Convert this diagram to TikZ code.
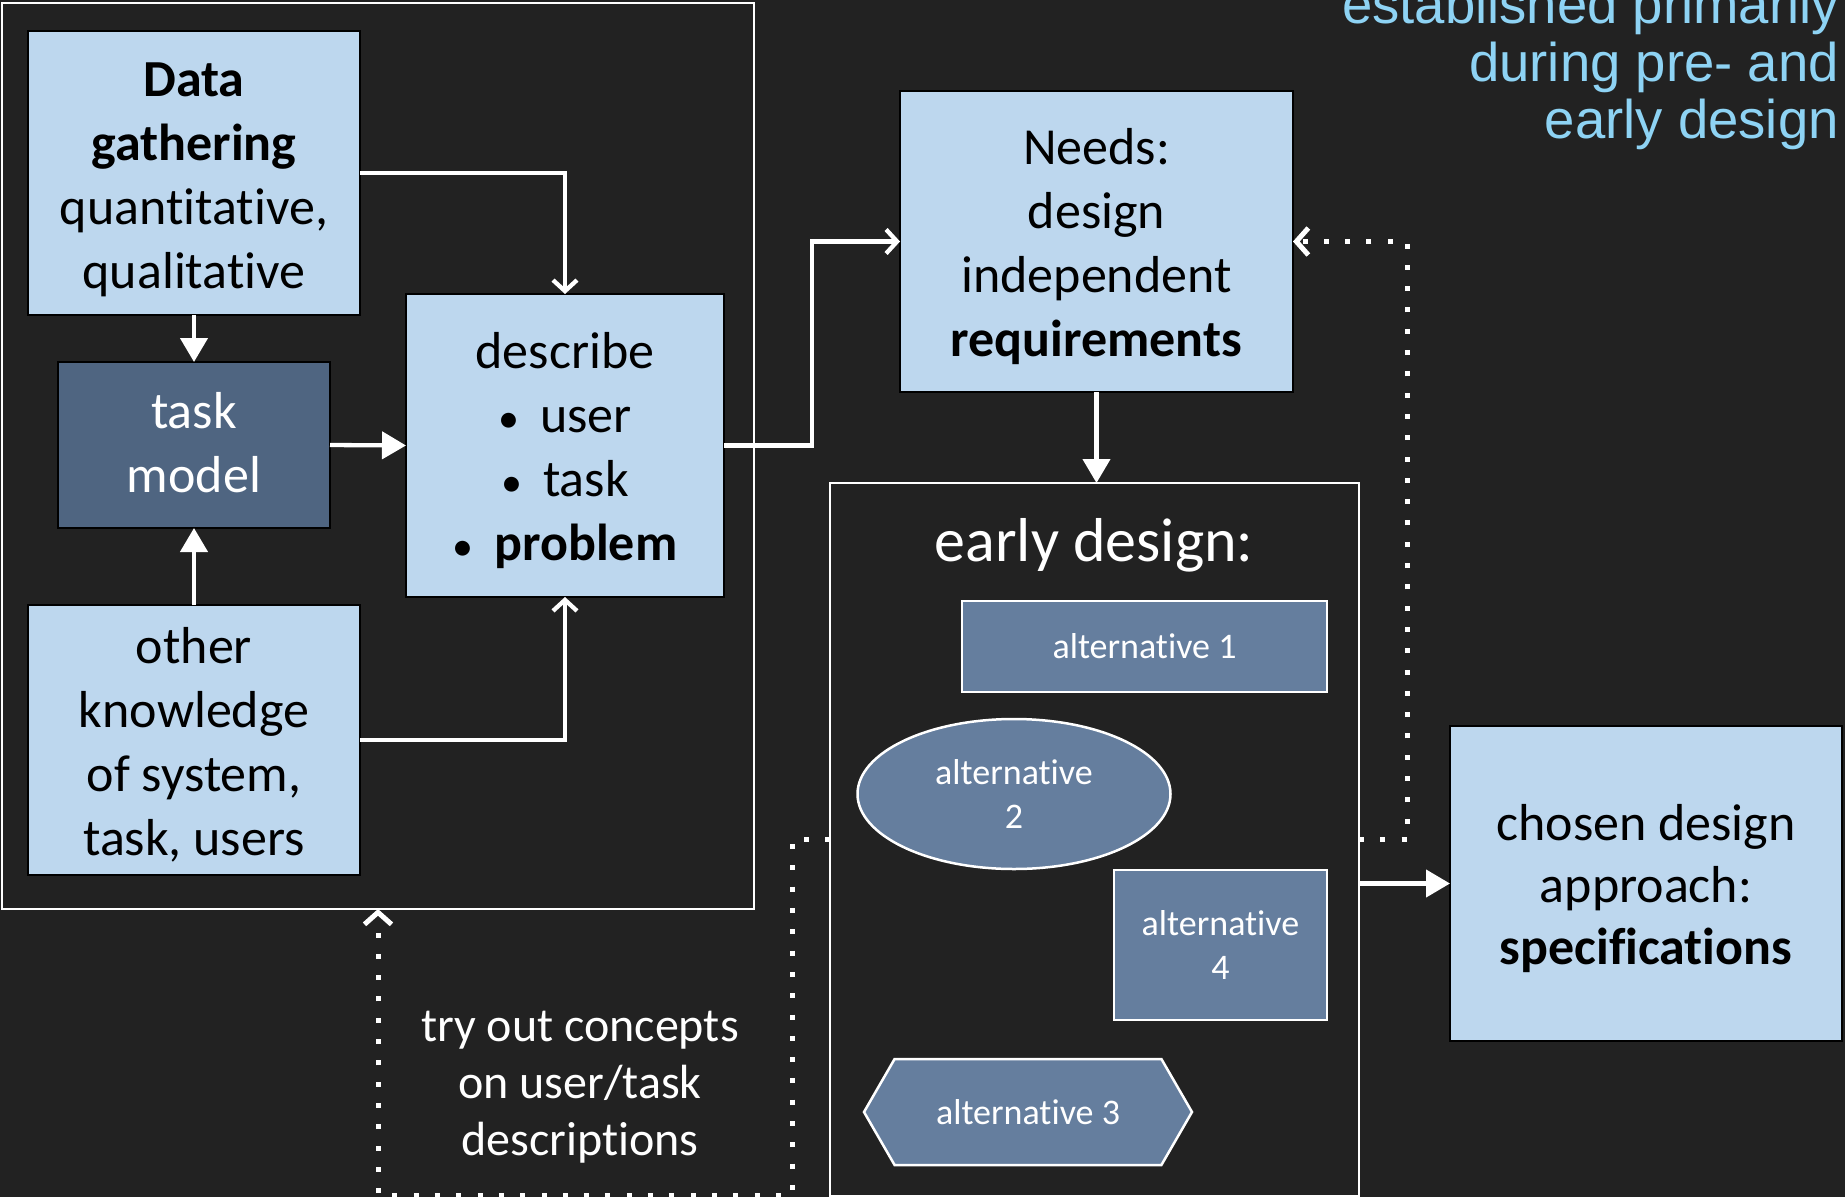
\documentclass[tikz,border=0pt]{standalone}
\usepackage{fontspec}
\setmainfont{Carlito}[Ligatures=NoCommon]
\newfontfamily\helv{Liberation Sans}
\usetikzlibrary{arrows.meta,shapes.geometric,shapes.symbols}
\definecolor{bgc}{HTML}{222222}
\definecolor{lightblue}{HTML}{BDD7EE}
\definecolor{taskdark}{HTML}{4F6581}
\definecolor{altfill}{HTML}{657E9E}
\definecolor{toptext}{HTML}{8ED3F4}
\newcommand\mytop{\rule{0pt}{48pt}}
\newcommand\mybot{\rule[-10pt]{0pt}{1pt}}
\newcommand\mybul{{\fontsize{42}{42}\selectfont •}\hspace{0.4em}}
\begin{document}
\begin{tikzpicture}[x=1pt,y=-1pt,
  lbox/.style={draw=black, line width=2.5pt, fill=lightblue, inner sep=0pt, outer sep=0pt,
    align=center, text=black, font=\fontsize{52}{64}\selectfont},
  dbox/.style={lbox, fill=taskdark, text=white},
  frame/.style={draw=white, line width=2.5pt, inner sep=0pt, outer sep=0pt},
  alt/.style={draw=white, line width=2.5pt, fill=altfill, text=white, align=center,
    inner sep=0pt, outer sep=0pt, font=\fontsize{36}{44.5}\selectfont},
  conn/.style={draw=white, line width=4.3pt},
  fhead/.style={-{Triangle[length=24pt,width=27pt]}},
  ohead/.style={-{Straight Barb[length=11pt,width=24pt]}},
  dotline/.style={draw=white, line width=5pt, dash pattern=on 5pt off 16.3pt,
    -{Straight Barb[length=12pt,width=27pt]}},
  plain/.style={text=white, inner sep=0pt, outer sep=0pt, align=center}
]
\fill[bgc] (0,0) rectangle (1845,1197);
\useasboundingbox (0,0) rectangle (1845,1197);

% frames
\node[frame, minimum width=752, minimum height=906] (leftframe) at (378,456) {};
\node[frame, minimum width=529, minimum height=713] (early) at (1094.5,839.5) {};

% left group
\node[lbox, minimum width=332, minimum height=284] (data) at (194,173)
  {\mytop\textbf{Data}\\\textbf{gathering}\\quantitative,\\qualitative\mybot};
\node[dbox, minimum width=272, minimum height=166] (task) at (194,445)
  {\rule{0pt}{40pt}task\\model\mybot};
\node[lbox, minimum width=318, minimum height=303] (describe) at (565,445.5)
  {\mytop describe\\\mybul user\\\mybul task\\\mybul\textbf{problem}\mybot};
\node[lbox, minimum width=332, minimum height=270] (other) at (194,740)
  {\mytop other\\knowledge\\of system,\\task, users\mybot};

% needs
\node[lbox, minimum width=393, minimum height=301] (needs) at (1096.5,241.5)
  {\mytop Needs:\\design\\independent\\\textbf{requirements}\mybot};

% early design content
\node[plain, font=\fontsize{62}{70}\selectfont, anchor=base] (edtitle) at (1094,561) {early design:};
\node[alt, minimum width=365, minimum height=91] (alt1) at (1144.5,646.5) {alternative 1};
\node[alt, ellipse, minimum width=313, minimum height=150] (alt2) at (1014,794) {alternative\\2};
\node[alt, minimum width=213, minimum height=150] (alt4) at (1220.5,945) {alternative\\4};
\node[alt, signal, signal to=west and east, signal pointer angle=120,
  minimum width=328, minimum height=106] (alt3) at (1028,1112) {alternative 3};

% chosen
\node[lbox, minimum width=392, minimum height=315, font=\fontsize{52}{62}\selectfont] (chosen) at (1646,883.5)
  {\mytop chosen design\\approach:\\\textbf{specifications}\mybot};

% labels
\node[plain, font=\fontsize{48}{57}\selectfont] (tryout) at (580,1080)
  {\rule{0pt}{45pt}try out concepts\\on user/task\\descriptions\rule[-9pt]{0pt}{1pt}};
\node[text=toptext, inner sep=0pt, align=right, anchor=north east,
  font=\helv\fontsize{54.5}{57.5}\selectfont] (note) at (1839,-16)
  {established primarily\\during pre- and\\early design};

% connectors
\draw[conn, ohead] (data.east) -| (describe.north);
\draw[conn, fhead] (data.south) -- (task.north);
\draw[conn, fhead] (task.east) -- (describe.west);
\draw[conn, fhead] (other.north) -- (task.south);
\draw[conn, ohead] (other.east) -| (describe.south);
\draw[conn, ohead] (describe.east) -- ++(88,0) |- (needs.west);
\draw[conn, fhead] (needs.south) -- (needs.south |- early.north);
\draw[conn, fhead] (early.east |- chosen.west) -- (chosen.west);
\draw[dotline] (early.east) -- ++(48,0) |- (needs.east);
\draw[dotline] (early.west) -- ++(-38,0) -- ++(0,355.5) -| (leftframe.south);
\end{tikzpicture}
\end{document}
